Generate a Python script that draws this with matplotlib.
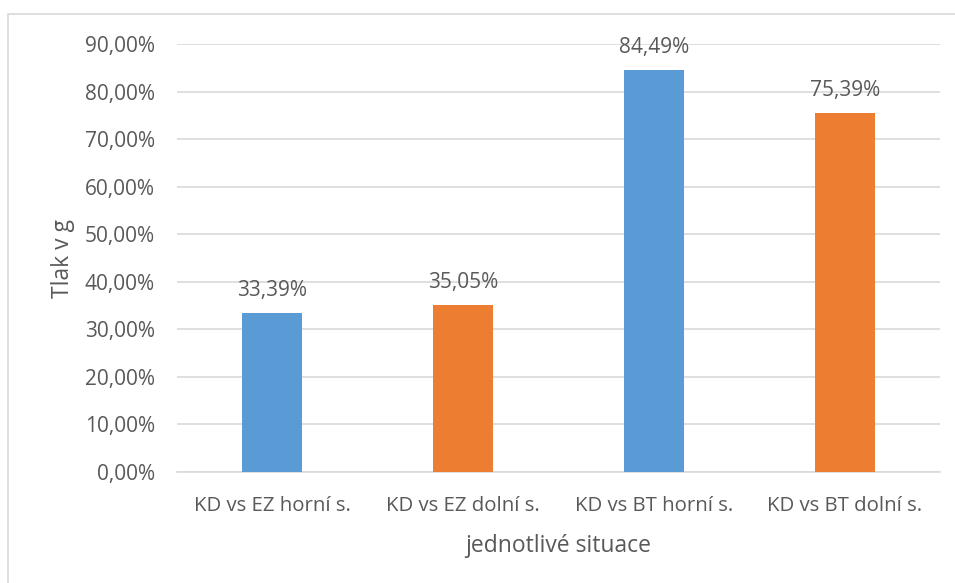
import numpy as np
import matplotlib.pyplot as plt
from matplotlib.patches import Rectangle
from matplotlib.ticker import FuncFormatter

# === Data ===
categories = ["KD vs EZ horní s.", "KD vs EZ dolní s.", "KD vs BT horní s.", "KD vs BT dolní s."]
values = [0.3339, 0.3505, 0.8449, 0.7539]
colors = ["#5B9BD5", "#ED7D31", "#5B9BD5", "#ED7D31"]
y_ticks = np.arange(0, 0.91, 0.1)

text_color = "#595959"
plt.rcParams['font.family'] = ['Open Sans', 'DejaVu Sans']

fig = plt.figure(figsize=(9.55, 5.83), dpi=100)
ax = fig.add_axes([0.1853, 0.1904, 0.799, 0.7341])

# chart frame
fig.patches.append(Rectangle((8 / 955, -0.1), 1.2, 1 - 14 / 583 + 0.1,
                             transform=fig.transFigure, fill=False,
                             edgecolor="#D9D9D9", linewidth=1.2))

x = np.arange(len(categories))
bars = ax.bar(x, values, width=0.315, color=colors, zorder=3)

for xi, v in zip(x, values):
    ax.annotate(f"{v * 100:.2f}%".replace(".", ","), (xi, v),
                xytext=(0, 9), textcoords="offset points",
                ha="center", va="bottom", fontsize=15, color=text_color)

ax.set_xlim(-0.5, len(categories) - 0.5)
ax.set_ylim(0, 0.9)
ax.set_yticks(y_ticks)
ax.yaxis.set_major_formatter(FuncFormatter(lambda v, _: f"{v * 100:.2f}%".replace(".", ",")))
ax.set_xticks(x)
ax.set_xticklabels(categories)
ax.tick_params(axis="both", length=0, labelcolor=text_color)
ax.tick_params(axis="y", pad=16, labelsize=15)
ax.tick_params(axis="x", pad=17, labelsize=14.7)

ax.grid(axis="y", color="#D9D9D9", linewidth=1.2, zorder=0)
for s in ["top", "right", "left"]:
    ax.spines[s].set_visible(False)
ax.spines["bottom"].set_color("#D9D9D9")
ax.spines["bottom"].set_linewidth(1.2)

ax.set_ylabel("Tlak v g", fontsize=16.5, color=text_color, labelpad=7)
ax.set_xlabel("jednotlivé situace", fontsize=16.5, color=text_color, labelpad=13)

fig.savefig("out.png", dpi=100)
